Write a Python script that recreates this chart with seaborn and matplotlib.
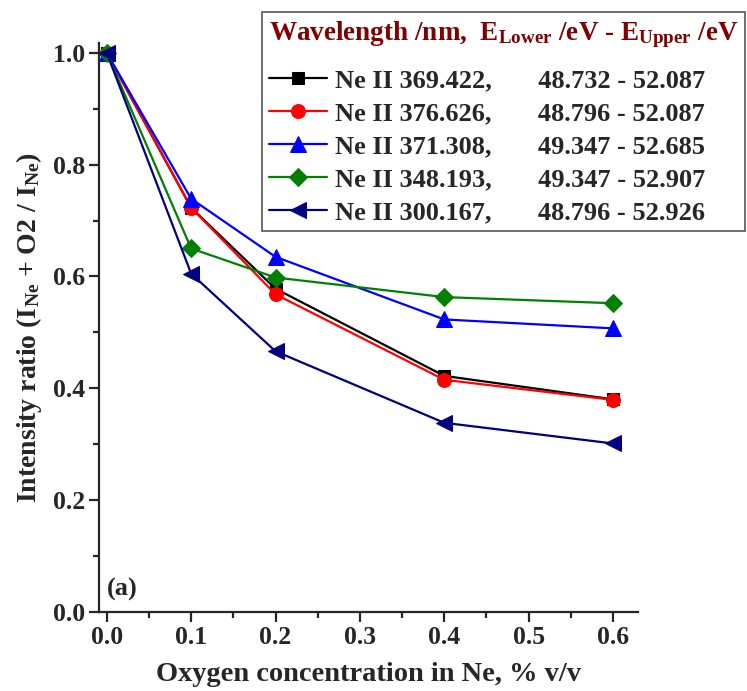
import pandas as pd
import seaborn as sns
import matplotlib.pyplot as plt
from matplotlib.ticker import MultipleLocator

# Data
oxygen = [0.0, 0.1, 0.2, 0.4, 0.6]
ne_369 = [1.0, 0.723, 0.578, 0.422, 0.380]
ne_376 = [1.0, 0.723, 0.568, 0.415, 0.379]
ne_371 = [1.0, 0.739, 0.635, 0.523, 0.507]
ne_348 = [1.0, 0.650, 0.598, 0.563, 0.552]
ne_300 = [1.0, 0.605, 0.466, 0.338, 0.301]

labels = [
    'Ne II 369.422,       48.732 - 52.087',
    'Ne II 376.626,       48.796 - 52.087',
    'Ne II 371.308,       49.347 - 52.685',
    'Ne II 348.193,       49.347 - 52.907',
    'Ne II 300.167,       48.796 - 52.926',
]
series = [ne_369, ne_376, ne_371, ne_348, ne_300]
colors = ['#000000', '#ff0000', '#0000ff', '#008000', '#000080']
markers = ['s', 'o', '^', 'D', '<']
sizes = [8, 10, 11, 9, 12]

# Long-form table for seaborn
rows = []
for lab, vals in zip(labels, series):
    for x, y in zip(oxygen, vals):
        rows.append({'x': x, 'y': y, 'line': lab})
df = pd.DataFrame(rows)

sns.set_style('ticks')
plt.rcParams['font.family'] = ['Liberation Serif', 'DejaVu Serif']
plt.rcParams['font.weight'] = 'bold'
plt.rcParams['mathtext.fontset'] = 'custom'
plt.rcParams['mathtext.rm'] = 'Liberation Serif:bold'
plt.rcParams['mathtext.it'] = 'Liberation Serif:bold'
plt.rcParams['mathtext.bf'] = 'Liberation Serif:bold'

fig = plt.figure(figsize=(7.47, 6.91), dpi=100)
ax = fig.add_axes([0.133, 0.1148, 0.7215, 0.8232])

for lab, c, m, s in zip(labels, colors, markers, sizes):
    sub = df[df['line'] == lab]
    sns.lineplot(data=sub, x='x', y='y', ax=ax, color=c, marker=m,
                 markersize=s, markeredgecolor=c, linewidth=1.6, label=lab)

ax.set_xlim(-0.0088, 0.630)
ax.set_ylim(0.0, 1.018)
ax.xaxis.set_major_locator(MultipleLocator(0.1))
ax.xaxis.set_minor_locator(MultipleLocator(0.05))
ax.yaxis.set_major_locator(MultipleLocator(0.2))
ax.yaxis.set_minor_locator(MultipleLocator(0.1))
ax.tick_params(which='major', length=7, width=1.6, labelsize=18.5, direction='out')
ax.tick_params(which='minor', length=4, width=1.6, direction='out')
for lbl in ax.get_xticklabels() + ax.get_yticklabels():
    lbl.set_fontweight('bold')

sns.despine(ax=ax)
for sp in ['left', 'bottom']:
    ax.spines[sp].set_linewidth(1.6)

ax.set_xlabel('Oxygen concentration in Ne, % v/v', fontsize=20.5, fontweight='bold', labelpad=9)
ax.set_ylabel(r'Intensity ratio (I$_{Ne}$ + O2 / I$_{Ne}$)', fontsize=20,
              fontweight='bold', labelpad=6)

ax.text(0.0, 0.04, '(a)', fontsize=19, fontweight='bold', transform=ax.transData,
        ha='left', va='center')

leg = ax.legend(loc='upper right', bbox_to_anchor=(0.997, 0.982),
                bbox_transform=fig.transFigure, fancybox=False, framealpha=1,
                edgecolor='#555555', fontsize=19, handlelength=2.2,
                handletextpad=0.3, borderpad=0.25, borderaxespad=0,
                labelspacing=0.36,
                title=r'Wavelength /nm,  E$_{Lower}$ /eV - E$_{Upper}$ /eV',
                title_fontsize=19.5)
leg.get_frame().set_linewidth(1.2)
leg.get_title().set_color('#800000')
leg.get_title().set_fontweight('bold')
leg._legend_box.align = 'left'
# a bit more room between the header row and the entries
leg._legend_box.sep = 14
for t in leg.get_texts():
    t.set_fontweight('bold')

fig.savefig('out.png', dpi=100)
